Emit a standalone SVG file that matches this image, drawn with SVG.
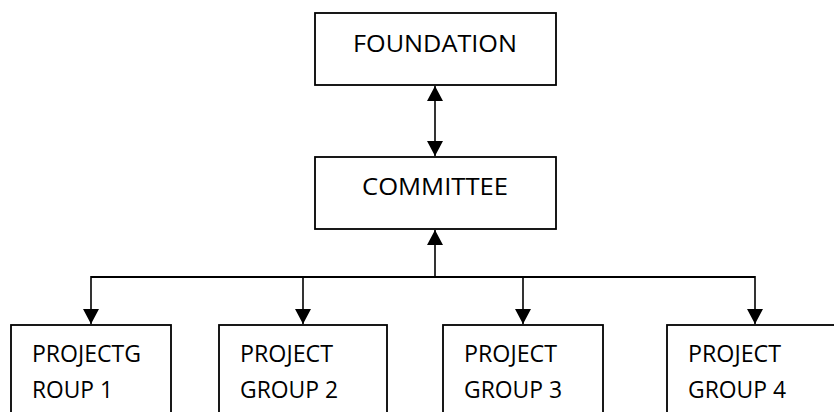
<svg xmlns="http://www.w3.org/2000/svg" width="834" height="412" viewBox="0 0 834 412">
<style>
.box{fill:#fff;stroke:#000;stroke-width:1.8}
.lbl{font-family:"Open Sans","Liberation Sans",Arial,sans-serif;font-size:23.5px;fill:#000}
.con{fill:none;stroke:#000;stroke-width:1.6}
</style>
<defs>
<marker id="ah" markerUnits="userSpaceOnUse" markerWidth="16" markerHeight="16" refX="15" refY="8" orient="auto-start-reverse" viewBox="0 0 16 16">
<path d="M0,0 L15,8 L0,16 z" fill="#000"/>
</marker>
</defs>
<rect width="834" height="412" fill="#fff"/>
<g id="connectors">
<line class="con" x1="435" y1="86" x2="435" y2="156" marker-start="url(#ah)" marker-end="url(#ah)"/>
<line class="con" x1="435" y1="277" x2="435" y2="230" marker-end="url(#ah)"/>
<line class="con" x1="91" y1="277" x2="755" y2="277" style="stroke-width:2"/>
<line class="con" x1="91" y1="276" x2="91" y2="324" marker-end="url(#ah)"/>
<line class="con" x1="303" y1="276" x2="303" y2="324" marker-end="url(#ah)"/>
<line class="con" x1="523" y1="276" x2="523" y2="324" marker-end="url(#ah)"/>
<line class="con" x1="755" y1="276" x2="755" y2="324" marker-end="url(#ah)"/>
</g>
<g id="foundation">
<rect class="box" x="315" y="13" width="241" height="72"/>
<text class="lbl" x="353" y="52" textLength="164" lengthAdjust="spacingAndGlyphs">FOUNDATION</text>
</g>
<g id="committee">
<rect class="box" x="315" y="157" width="241" height="72"/>
<text class="lbl" x="362" y="195" textLength="146" lengthAdjust="spacingAndGlyphs">COMMITTEE</text>
</g>
<g id="group1">
<rect class="box" x="11" y="325" width="160" height="100"/>
<text class="lbl" x="32" y="362" textLength="109" lengthAdjust="spacingAndGlyphs">PROJECTG</text>
<text class="lbl" x="32" y="398" textLength="81" lengthAdjust="spacingAndGlyphs">ROUP 1</text>
</g>
<g id="group2">
<rect class="box" x="219" y="325" width="168" height="100"/>
<text class="lbl" x="240" y="362" textLength="93" lengthAdjust="spacingAndGlyphs">PROJECT</text>
<text class="lbl" x="240" y="398" textLength="98" lengthAdjust="spacingAndGlyphs">GROUP 2</text>
</g>
<g id="group3">
<rect class="box" x="443" y="325" width="160" height="100"/>
<text class="lbl" x="464" y="362" textLength="93" lengthAdjust="spacingAndGlyphs">PROJECT</text>
<text class="lbl" x="464" y="398" textLength="98" lengthAdjust="spacingAndGlyphs">GROUP 3</text>
</g>
<g id="group4">
<rect class="box" x="667" y="325" width="180" height="100"/>
<text class="lbl" x="688" y="362" textLength="93" lengthAdjust="spacingAndGlyphs">PROJECT</text>
<text class="lbl" x="688" y="398" textLength="98" lengthAdjust="spacingAndGlyphs">GROUP 4</text>
</g>
</svg>
